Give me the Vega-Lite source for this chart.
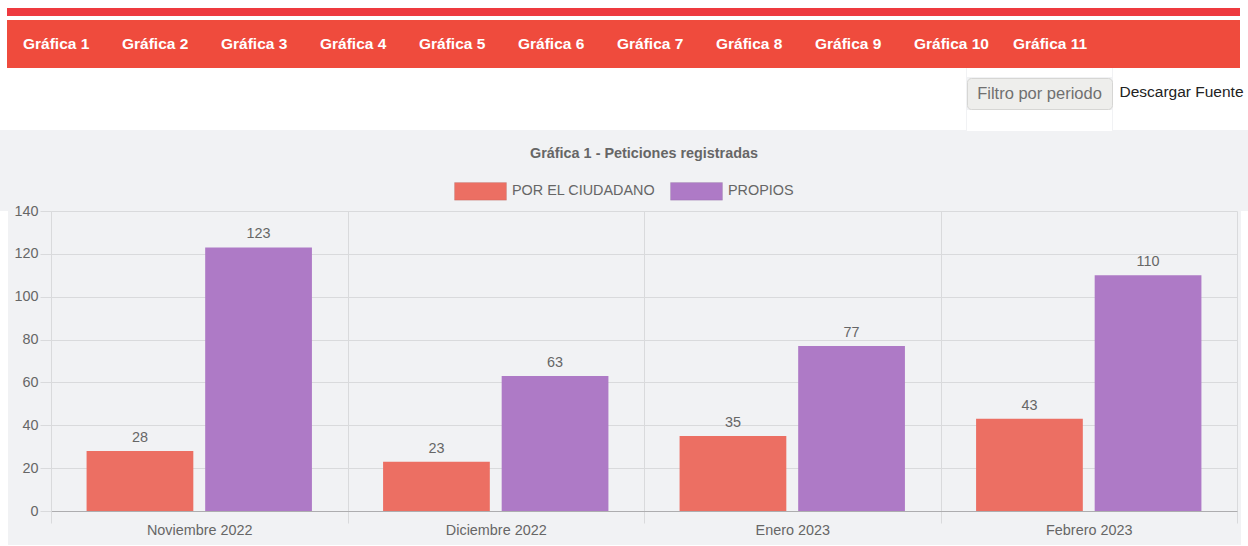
{
  "$schema": "https://vega.github.io/schema/vega-lite/v6.json",
  "background": "#F1F2F4",
  "padding": 0,
  "config": {
    "view": {"stroke": null},
    "concat": {"spacing": 0},
    "font": "Liberation Sans"
  },
  "spacing": 14,
  "resolve": {"legend": {"color": "independent"}},
  "vconcat": [
    {
      "spacing": 0,
      "vconcat": [
        {"width": 1248, "height": 8, "view": {"fill": "#ffffff", "stroke": null}, "data": {"values": []}, "mark": "text", "encoding": {"text": {"value": ""}}},
        {
          "spacing": 0,
          "hconcat": [
            {"width": 7, "height": 8, "view": {"fill": "#ffffff", "stroke": null}, "data": {"values": []}, "mark": "text", "encoding": {"text": {"value": ""}}},
            {"width": 1233, "height": 8, "view": {"fill": "#EE3A3F", "stroke": null}, "data": {"values": []}, "mark": "text", "encoding": {"text": {"value": ""}}},
            {"width": 8, "height": 8, "view": {"fill": "#ffffff", "stroke": null}, "data": {"values": []}, "mark": "text", "encoding": {"text": {"value": ""}}}
          ]
        },
        {"width": 1248, "height": 4, "view": {"fill": "#ffffff", "stroke": null}, "data": {"values": []}, "mark": "text", "encoding": {"text": {"value": ""}}},
        {
          "spacing": 0,
          "hconcat": [
            {"width": 7, "height": 48, "view": {"fill": "#ffffff", "stroke": null}, "data": {"values": []}, "mark": "text", "encoding": {"text": {"value": ""}}},
            {
              "width": 1233,
              "height": 48,
              "view": {"fill": "#EF4B3D", "stroke": null},
              "data": {"values": [
                {"label": "Gráfica 1", "n": 1},
                {"label": "Gráfica 2", "n": 2},
                {"label": "Gráfica 3", "n": 3},
                {"label": "Gráfica 4", "n": 4},
                {"label": "Gráfica 5", "n": 5},
                {"label": "Gráfica 6", "n": 6},
                {"label": "Gráfica 7", "n": 7},
                {"label": "Gráfica 8", "n": 8},
                {"label": "Gráfica 9", "n": 9},
                {"label": "Gráfica 10", "n": 10},
                {"label": "Gráfica 11", "n": 11}
              ]},
              "mark": {"type": "text", "align": "left", "color": "#ffffff", "font": "Liberation Sans", "fontSize": 15.5, "fontWeight": "bold"},
              "encoding": {
                "x": {"field": "n", "type": "quantitative", "scale": {"domain": [0.8384, 13.2929], "nice": false, "zero": false}, "axis": null},
                "text": {"field": "label"}
              }
            },
            {"width": 8, "height": 48, "view": {"fill": "#ffffff", "stroke": null}, "data": {"values": []}, "mark": "text", "encoding": {"text": {"value": ""}}}
          ]
        },
        {
          "spacing": 0,
          "hconcat": [
            {"width": 966, "height": 62, "view": {"fill": "#ffffff", "stroke": null}, "data": {"values": []}, "mark": "text", "encoding": {"text": {"value": ""}}},
            {
              "spacing": 0,
              "vconcat": [
                {"width": 145, "height": 9, "view": {"fill": "#ffffff", "stroke": null}, "data": {"values": []}, "mark": "text", "encoding": {"text": {"value": ""}}},
                {"width": 145, "height": 31, "view": {"fill": "#EEEEEC", "stroke": "#D6D6D4", "cornerRadius": 4}, "data": {"values": [{"t": "Filtro por periodo"}]}, "mark": {"type": "text", "color": "#707070", "fontSize": 16.5, "font": "Liberation Sans"}, "encoding": {"text": {"field": "t"}}},
                {"width": 145, "height": 21, "view": {"fill": "#ffffff", "stroke": null}, "data": {"values": []}, "mark": "text", "encoding": {"text": {"value": ""}}}
              ]
            },
            {"width": 137, "height": 62, "view": {"fill": "#ffffff", "stroke": null}, "data": {"values": [{"t": "Descargar Fuente"}]}, "mark": {"type": "text", "color": "#222222", "fontSize": 15.5, "dy": -7, "font": "Liberation Sans"}, "encoding": {"text": {"field": "t"}}}
          ]
        }
      ]
    },
    {
      "spacing": 0,
      "hconcat": [
        {"width": 8, "height": 334, "view": {"fill": "#ffffff", "stroke": null}, "data": {"values": []}, "mark": "text", "encoding": {"text": {"value": ""}}},
        {
          "width": 1186,
          "height": 300,
          "view": {"stroke": null},
          "title": {"text": "Gráfica 1 - Peticiones registradas", "fontSize": 14.4, "fontWeight": "bold", "color": "#666666", "font": "Liberation Sans", "anchor": "middle", "offset": 42},
          "data": {"values": [
            {"mes": "Noviembre 2022", "serie": "POR EL CIUDADANO", "valor": 28},
            {"mes": "Noviembre 2022", "serie": "PROPIOS", "valor": 123},
            {"mes": "Diciembre 2022", "serie": "POR EL CIUDADANO", "valor": 23},
            {"mes": "Diciembre 2022", "serie": "PROPIOS", "valor": 63},
            {"mes": "Enero 2023", "serie": "POR EL CIUDADANO", "valor": 35},
            {"mes": "Enero 2023", "serie": "PROPIOS", "valor": 77},
            {"mes": "Febrero 2023", "serie": "POR EL CIUDADANO", "valor": 43},
            {"mes": "Febrero 2023", "serie": "PROPIOS", "valor": 110}
          ]},
          "encoding": {
            "x": {
              "field": "mes", "type": "nominal", "sort": null,
              "scale": {"paddingInner": 0, "paddingOuter": 0},
              "axis": {"title": null, "labelAngle": 0, "tickBand": "extent", "grid": true, "gridColor": "#D9DADC", "tickColor": "#D9DADC", "tickSize": 12, "domainColor": "#ADADAF", "labelFontSize": 14.4, "labelColor": "#666666", "labelPadding": 0, "minExtent": 34, "maxExtent": 34}
            },
            "xOffset": {"field": "serie", "type": "nominal", "sort": null, "scale": {"paddingInner": 0.1, "paddingOuter": 0.3}},
            "y": {
              "field": "valor", "type": "quantitative",
              "scale": {"domain": [0, 140], "nice": false},
              "axis": {"title": null, "values": [0, 20, 40, 60, 80, 100, 120, 140], "gridColor": "#D9DADC", "tickColor": "#D9DADC", "tickSize": 11, "domainColor": "#D9DADC", "labelFontSize": 14.4, "labelColor": "#666666", "labelPadding": 2, "minExtent": 43, "maxExtent": 43}
            }
          },
          "layer": [
            {
              "mark": {"type": "bar"},
              "encoding": {
                "color": {
                  "field": "serie", "type": "nominal",
                  "scale": {"domain": ["POR EL CIUDADANO", "PROPIOS"], "range": ["#EC6F63", "#AE7AC6"]},
                  "legend": {"orient": "none", "legendX": 454, "legendY": -46.5, "direction": "horizontal", "title": null, "symbolType": "M-1,-0.34H1V0.34H-1Z", "symbolSize": 2704, "symbolStrokeWidth": 1, "symbolStrokeColor": "rgba(0,0,0,0.08)", "symbolOpacity": 1, "labelFontSize": 14.4, "labelColor": "#666666", "labelOffset": 5, "columnPadding": 12, "padding": 0}
                }
              }
            },
            {
              "mark": {"type": "text", "baseline": "alphabetic", "dy": -9, "fontSize": 14.4, "color": "#666666"},
              "encoding": {"text": {"field": "valor", "type": "quantitative"}}
            }
          ]
        },
        {"width": 3, "height": 334, "view": {"fill": null, "stroke": null}, "data": {"values": []}, "mark": "text", "encoding": {"text": {"value": ""}}},
        {"width": 8, "height": 334, "view": {"fill": "#ffffff", "stroke": null}, "data": {"values": []}, "mark": "text", "encoding": {"text": {"value": ""}}}
      ]
    }
  ]
}
